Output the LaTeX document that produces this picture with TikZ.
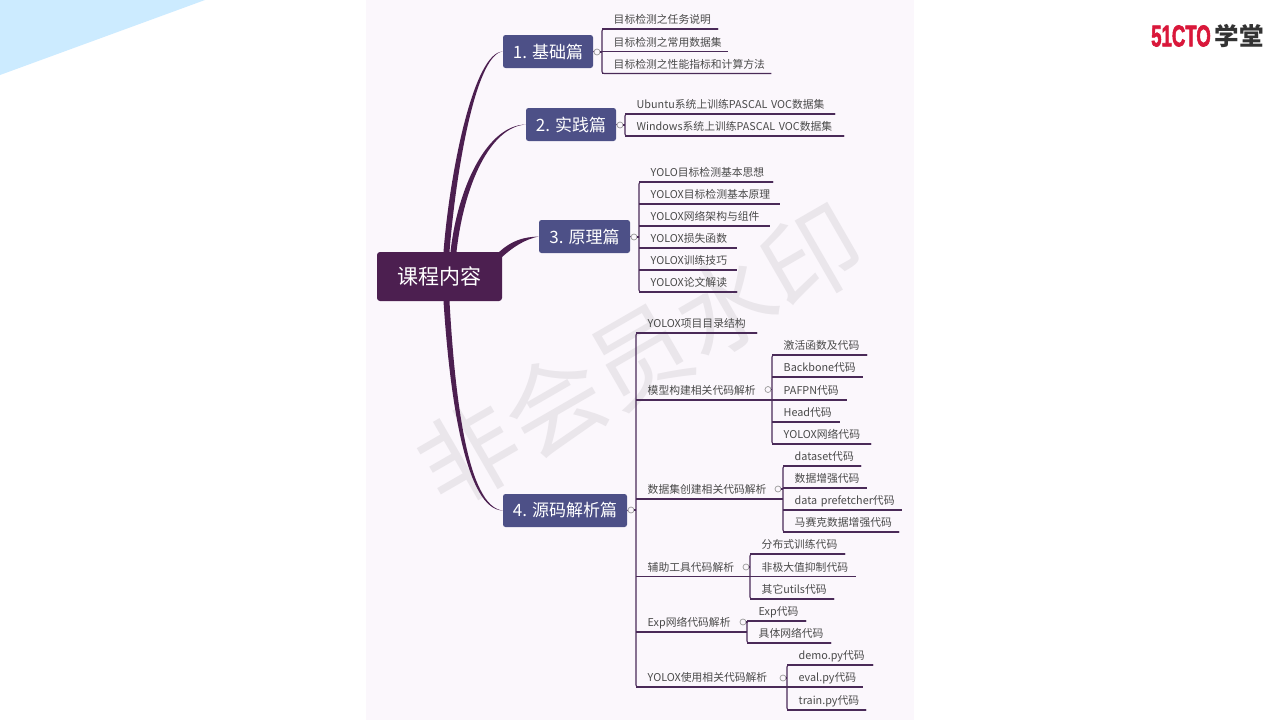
\documentclass[tikz,border=0pt]{standalone}
\usepackage{fontspec}
\setmainfont{Noto Sans CJK SC}
\newfontfamily\logofont[BoldFeatures={FakeBold=2.5}]{Liberation Sans}
\usetikzlibrary{calc}

\definecolor{panelbg}{HTML}{FBF7FC}
\definecolor{rootfill}{HTML}{4C1F50}
\definecolor{partfill}{HTML}{4D5087}
\definecolor{branchline}{HTML}{4A2A58}
\definecolor{leaftext}{HTML}{4A4A4A}
\definecolor{markgray}{HTML}{EAE6EB}
\definecolor{cornerblue}{HTML}{CCEBFF}
\definecolor{logored}{HTML}{D9173A}
\definecolor{logodark}{HTML}{333333}

\tikzset{
  rootbox/.style={fill=rootfill,text=white,rounded corners=3,minimum width=125,minimum height=49,inner sep=0,font=\fontsize{21}{25}\selectfont},
  partbox/.style={fill=partfill,text=white,rounded corners=2.5,minimum height=33,inner sep=0,font=\fontsize{17}{21}\selectfont},
  hubdot/.style={circle,draw=gray!80,fill=panelbg,line width=0.7,minimum size=6,inner sep=0},
  leaf/.style={anchor=south west,inner sep=0,align=left,text=leaftext,text height=9,text depth=5,font=\fontsize{10.8}{13}\selectfont},
  branch/.style={draw=branchline,line width=1.1},
  trunk/.style={fill=rootfill}
}

% one leaf per entry: name/line y/line end/text
\newcommand{\leafset}[2]{
  \foreach \id/\yy/\xe/\txt [evaluate=\xe as \w using \xe-#1] in {#2}
  {
    \node [leaf,text width=\w] (\id) at (#1,\yy) {\hspace*{11.5pt}\txt};
    \draw [branch] (\id.south west) -- (\id.south east);
  }
}

\begin{document}
\begin{tikzpicture}[x=1pt,y=-1pt]
  \useasboundingbox (0,0) rectangle (1280,720);
  \fill [white] (0,0) rectangle (1280,720);
  \fill [cornerblue] (0,0) -- (205,0) -- (0,75) -- cycle;
  \fill [panelbg] (366,0) rectangle (914,720);

  % watermark
  \node [rotate=30,text=markgray,font=\fontsize{99}{105}\selectfont,inner sep=0] (mark) at (640,355) {非会员水印};

  % logo
  \node [text=logored,font=\logofont\bfseries\fontsize{30}{32}\selectfont,xscale=0.62,inner sep=0] (logoa) at (1181,36) {51CTO};
  \node [text=logodark,font=\bfseries\fontsize{24.5}{28}\selectfont,inner sep=0] (logob) at (1239,36) {学堂};

  % main boxes
  \node [rootbox] (root) at (439.5,276.5) {\raisebox{-1pt}{课程内容}};
  \node [partbox,minimum width=90] (part1) at (548,51.5) {\raisebox{-1pt}{1. 基础篇}};
  \node [partbox,minimum width=90] (part2) at (571,124.5) {\raisebox{-1pt}{2. 实践篇}};
  \node [partbox,minimum width=91] (part3) at (584.5,236.5) {\raisebox{-1pt}{3. 原理篇}};
  \node [partbox,minimum width=124] (part4) at (565,510.5) {\raisebox{-1pt}{4. 源码解析篇}};

  % tapered trunks
  \fill [trunk] ($(root.north)+(4,0)$) .. controls (450,170) and (474,52) .. (part1.west)
    .. controls (476,54) and (456,170) .. ($(root.north)+(10,0)$) -- cycle;
  \fill [trunk] ($(root.north)+(11,0)$) .. controls (458,185) and (488,125) .. (part2.west)
    .. controls (490,127) and (464,185) .. ($(root.north)+(17,0)$) -- cycle;
  \fill [trunk] ($(root.north east)+(-4,1)$) .. controls (512,240) and (524,237) .. (part3.west)
    .. controls (526,239) and (514,246) .. ($(root.north east)+(-1,6)$) -- cycle;
  \fill [trunk] ($(root.south)+(4,0)$) .. controls (450,400) and (466,510) .. (part4.west)
    .. controls (468,507) and (455,400) .. ($(root.south)+(10,0)$) -- cycle;

  % 1
  \leafset{602}{a1/29/718/目标检测之任务说明,a2/51.5/728/目标检测之常用数据集,a3/73.5/771/目标检测之性能指标和计算方法}
  \node [hubdot] (huba) at (597,52) {};
  \draw [branch,rounded corners=2] (a1.south east) -- (a1.south west) -- (a3.south west) -- (a3.south east);
  \draw [branch] (part1.east) -- (huba);
  \draw [branch] (huba) -- (huba -| a1.south west);

  % 2
  \leafset{625}{b1/114/835/Ubuntu系统上训练PASCAL VOC数据集,b2/136/844/Windows系统上训练PASCAL VOC数据集}
  \node [hubdot] (hubb) at (620,125) {};
  \draw [branch,rounded corners=2] (b1.south east) -- (b1.south west) -- (b2.south west) -- (b2.south east);
  \draw [branch] (part2.east) -- (hubb);
  \draw [branch] (hubb) -- (hubb -| b1.south west);

  % 3
  \leafset{639}{c1/182/773/YOLO目标检测基本思想,c2/204/780/YOLOX目标检测基本原理,c3/226/770/YOLOX网络架构与组件,c4/248/737/YOLOX损失函数,c5/270/737/YOLOX训练技巧,c6/292/737/YOLOX论文解读}
  \node [hubdot] (hubc) at (634,237) {};
  \draw [branch,rounded corners=2] (c1.south east) -- (c1.south west) -- (c6.south west) -- (c6.south east);
  \draw [branch] (part3.east) -- (hubc);
  \draw [branch] (hubc) -- (hubc -| c1.south west);

  % 4
  \leafset{636}{d1/333/757/YOLOX项目目录结构,d2/400/772/模型构建相关代码解析,d3/499/783/数据集创建相关代码解析,d4/576.5/750/辅助工具代码解析,d5/632/747/Exp网络代码解析,d6/687/787/YOLOX使用相关代码解析}
  \node [hubdot] (hubd) at (631,510) {};
  \draw [branch,rounded corners=2] (d1.south east) -- (d1.south west) -- (d6.south west) -- (d6.south east);
  \draw [branch] (part4.east) -- (hubd);
  \draw [branch] (hubd) -- (hubd -| d1.south west);

  \leafset{772}{e1/355/867/激活函数及代码,e2/377/863/Backbone代码,e3/400/847/PAFPN代码,e4/422/840/Head代码,e5/444/871/YOLOX网络代码}
  \node [hubdot] (hube) at (768,389.5) {};
  \draw [branch,rounded corners=2] (e1.south east) -- (e1.south west) -- (e5.south west) -- (e5.south east);
  \draw [branch] (hube) -- (hube -| e1.south west);

  \leafset{783}{f1/466/861/dataset代码,f2/488/867/数据增强代码,f3/510/902/data prefetcher代码,f4/532/899/马赛克数据增强代码}
  \node [hubdot] (hubf) at (778,489) {};
  \draw [branch,rounded corners=2] (f1.south east) -- (f1.south west) -- (f4.south west) -- (f4.south east);
  \draw [branch] (hubf) -- (hubf -| f1.south west);

  \leafset{750}{g1/554/845/分布式训练代码,g2/576.5/856/非极大值抑制代码,g3/599/834/其它utils代码}
  \node [hubdot] (hubg) at (746,567) {};
  \draw [branch,rounded corners=2] (g1.south east) -- (g1.south west) -- (g3.south west) -- (g3.south east);
  \draw [branch] (hubg) -- (hubg -| g1.south west);

  \leafset{747}{h1/621/806/Exp代码,h2/643/831/具体网络代码}
  \node [hubdot] (hubh) at (743,622) {};
  \draw [branch,rounded corners=2] (h1.south east) -- (h1.south west) -- (h2.south west) -- (h2.south east);
  \draw [branch] (hubh) -- (hubh -| h1.south west);

  \leafset{787}{k1/665/873/demo.py代码,k2/687/863/eval.py代码,k3/710/866/train.py代码}
  \node [hubdot] (hubk) at (783,678) {};
  \draw [branch,rounded corners=2] (k1.south east) -- (k1.south west) -- (k3.south west) -- (k3.south east);
  \draw [branch] (hubk) -- (hubk -| k1.south west);
\end{tikzpicture}
\end{document}
